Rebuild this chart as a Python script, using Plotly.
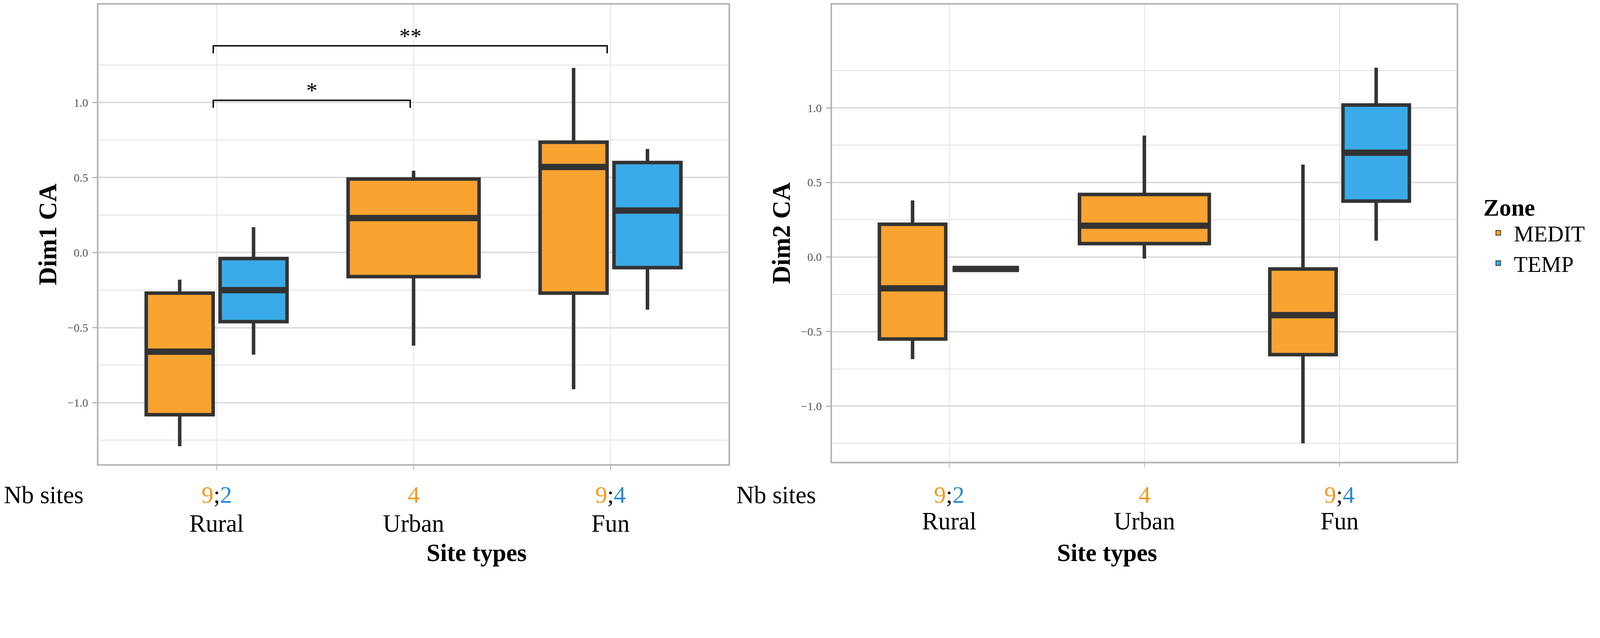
import plotly.graph_objects as go

# ---------------- data ----------------
categories = ["Rural", "Urban", "Fun"]
zones = ["MEDIT", "TEMP"]

# number of sites per zone and category (None = absent)
nb_medit = [9, 4, 9]
nb_temp = [2, None, 4]

# Dim1 CA box statistics
d1_medit_low = [-1.29, -0.62, -0.91]
d1_medit_q1 = [-1.08, -0.16, -0.27]
d1_medit_med = [-0.66, 0.23, 0.57]
d1_medit_q3 = [-0.27, 0.49, 0.735]
d1_medit_up = [-0.18, 0.545, 1.23]

d1_temp_low = [-0.68, None, -0.38]
d1_temp_q1 = [-0.46, None, -0.10]
d1_temp_med = [-0.25, None, 0.28]
d1_temp_q3 = [-0.04, None, 0.60]
d1_temp_up = [0.17, None, 0.69]

# Dim2 CA box statistics
d2_medit_low = [-0.685, -0.01, -1.25]
d2_medit_q1 = [-0.55, 0.09, -0.655]
d2_medit_med = [-0.21, 0.21, -0.39]
d2_medit_q3 = [0.22, 0.42, -0.08]
d2_medit_up = [0.38, 0.815, 0.62]

d2_temp_low = [-0.08, None, 0.11]
d2_temp_q1 = [-0.08, None, 0.375]
d2_temp_med = [-0.08, None, 0.70]
d2_temp_q3 = [-0.08, None, 1.02]
d2_temp_up = [-0.08, None, 1.27]

# significance comparisons on Dim1 (group a, group b, label, bracket height)
sig_a = ["Rural", "Rural"]
sig_b = ["Urban", "Fun"]
sig_lab = ["*", "**"]
sig_y = [1.014, 1.377]

ytick_vals = [-1.0, -0.5, 0.0, 0.5, 1.0]
ytick_text = ["\u22121.0", "\u22120.5", "0.0", "0.5", "1.0"]
yminor_vals = [-1.25, -0.75, -0.25, 0.25, 0.75, 1.25]

# ---------------- geometry helpers ----------------
# the page is photographed with a zoom and an 8px body margin;
# the figure is sized so that it fills the 4562x1633 photograph.
Z = 1.115
OFF = 8
FW = int(4562 / Z) - 2 * OFF
FH = int(1633 / Z) - 2 * OFF


def clamp(v):
    return min(1.0, max(0.0, v))


def fx(X):
    return clamp((X / Z - OFF) / FW)


def fy(Y):
    return clamp(1 - (Y / Z - OFF) / FH)


def px(v):
    return v / Z


# ---------------- style ----------------
FONT = "Liberation Serif, Times New Roman, serif"
C_MEDIT = "#F9A331"
C_TEMP = "#3AABE8"
T_MEDIT = "#F39A1F"
T_TEMP = "#2689CD"
OUTLINE = "#333333"
FRAME = "#b3b3b3"
DODGE = 0.1875
W_DODGED = 0.34
W_SOLO = 0.665

fig = go.Figure()


def add_panel(xa, ya, stats, show_legend):
    med_x, med_y = [], []
    first = {"MEDIT": True, "TEMP": True}
    for i, cat in enumerate(categories):
        pos = i + 1
        both = nb_temp[i] is not None
        for z in zones:
            st = stats[z]
            if st["med"][i] is None:
                continue
            if both:
                x = pos - DODGE if z == "MEDIT" else pos + DODGE
                w = W_DODGED
            else:
                x = pos
                w = W_SOLO
            fig.add_trace(go.Box(
                x=[x], q1=[st["q1"][i]], median=[st["med"][i]], q3=[st["q3"][i]],
                lowerfence=[st["low"][i]], upperfence=[st["up"][i]],
                width=w, whiskerwidth=0, boxpoints=False,
                fillcolor=C_MEDIT if z == "MEDIT" else C_TEMP,
                line=dict(color=OUTLINE, width=px(10)),
                name=z, legendgroup=z,
                showlegend=show_legend and first[z],
                xaxis=xa, yaxis=ya, hoverinfo="skip",
            ))
            first[z] = False
            med_x += [x - w / 2, x + w / 2, None]
            med_y += [st["med"][i], st["med"][i], None]
    fig.add_trace(go.Scatter(x=med_x, y=med_y, mode="lines",
                             line=dict(color=OUTLINE, width=px(18)),
                             showlegend=False, hoverinfo="skip",
                             xaxis=xa, yaxis=ya))


stats1 = {
    "MEDIT": dict(low=d1_medit_low, q1=d1_medit_q1, med=d1_medit_med, q3=d1_medit_q3, up=d1_medit_up),
    "TEMP": dict(low=d1_temp_low, q1=d1_temp_q1, med=d1_temp_med, q3=d1_temp_q3, up=d1_temp_up),
}
stats2 = {
    "MEDIT": dict(low=d2_medit_low, q1=d2_medit_q1, med=d2_medit_med, q3=d2_medit_q3, up=d2_medit_up),
    "TEMP": dict(low=d2_temp_low, q1=d2_temp_q1, med=d2_temp_med, q3=d2_temp_q3, up=d2_temp_up),
}
add_panel("x", "y", stats1, True)
add_panel("x2", "y2", stats2, False)

# significance brackets
SHIFT = -0.017
TICK = 0.05
bx, by = [], []
annotations = []
for a, b, lab, yv in zip(sig_a, sig_b, sig_lab, sig_y):
    xa = categories.index(a) + 1 + SHIFT
    xb = categories.index(b) + 1 + SHIFT
    bx += [xa, xa, xb, xb, None]
    by += [yv - TICK, yv, yv, yv - TICK, None]
    annotations.append(dict(x=(xa + xb) / 2, y=yv + 0.065, xref="x", yref="y",
                            text=lab, showarrow=False, yanchor="middle",
                            font=dict(family=FONT, size=px(64), color="#000000")))
fig.add_trace(go.Scatter(x=bx, y=by, mode="lines", line=dict(color="#000000", width=px(4)),
                         showlegend=False, hoverinfo="skip", xaxis="x", yaxis="y"))


def count_text(i):
    m, t = nb_medit[i], nb_temp[i]
    s = f"<span style='color:{T_MEDIT}'>{m}</span>"
    if t is not None:
        s += f";<span style='color:{T_TEMP}'>{t}</span>"
    return s


COUNT_Y = fy(1412)
for xr in ["x", "x2"]:
    for i in range(len(categories)):
        annotations.append(dict(x=i + 1, y=COUNT_Y, xref=xr, yref="paper", text=count_text(i),
                                showarrow=False, yanchor="middle",
                                font=dict(family=FONT, size=px(68), color="#000000")))
for X in [5, 2100]:
    annotations.append(dict(x=fx(X), y=COUNT_Y, xref="paper", yref="paper", text="Nb sites",
                            showarrow=False, xanchor="left", yanchor="middle",
                            font=dict(family=FONT, size=px(70), color="#000000")))
for X in [1215, 3305]:
    annotations.append(dict(x=fx(X), y=fy(1578), xref="paper", yref="paper",
                            text="<b>Site types</b>", showarrow=False, yanchor="middle",
                            font=dict(family=FONT, size=px(70), color="#000000")))

xaxis_common = dict(
    range=[0.4, 3.6], tickmode="array", tickvals=[1, 2, 3], ticktext=categories,
    showgrid=True, gridcolor="#e2e2e2", gridwidth=px(2), zeroline=False,
    showline=True, linecolor=FRAME, linewidth=px(4), mirror=True,
    ticks="outside", ticklen=px(12), tickwidth=px(2), tickcolor=FRAME,
    tickfont=dict(family=FONT, size=px(70), color="#000000"),
    ticklabelstandoff=int(round(px(92))),
)
yaxis_common = dict(
    tickmode="array", tickvals=ytick_vals, ticktext=ytick_text,
    showgrid=True, gridcolor="#dcdcdc", gridwidth=px(4), zeroline=False,
    showline=True, linecolor=FRAME, linewidth=px(4), mirror=True,
    ticks="outside", ticklen=px(13), tickwidth=px(3), tickcolor=FRAME,
    tickfont=dict(family=FONT, size=px(33), color="#555555"),
    ticklabelstandoff=int(round(px(6))),
    minor=dict(tickvals=yminor_vals, showgrid=True, gridcolor="#e9e9e9", gridwidth=px(3), ticks=""),
)

fig.update_layout(
    width=FW, height=FH,
    margin=dict(l=0, r=0, t=0, b=0),
    paper_bgcolor="white", plot_bgcolor="white",
    showlegend=True,
    xaxis=dict(domain=[fx(281), fx(2080)], anchor="y", **xaxis_common),
    xaxis2=dict(domain=[fx(2375), fx(4158)], anchor="y2", **xaxis_common),
    yaxis=dict(domain=[fy(1324), fy(10)], anchor="x", range=[-1.409, 1.651],
               title=dict(text="<b>Dim1 CA</b>", standoff=px(8),
                          font=dict(family=FONT, size=px(72), color="#000000")),
               **yaxis_common),
    yaxis2=dict(domain=[fy(1317), fy(10)], anchor="x2", range=[-1.373, 1.693],
                title=dict(text="<b>Dim2 CA</b>", standoff=px(8),
                           font=dict(family=FONT, size=px(72), color="#000000")),
                **yaxis_common),
    legend=dict(x=fx(4232), y=fy(525), xanchor="left", yanchor="top",
                title=dict(text="<b>Zone</b>", font=dict(family=FONT, size=px(68), color="#000000"),
                           side="top"),
                font=dict(family=FONT, size=px(64), color="#000000"),
                itemwidth=int(round(px(78))),
                bgcolor="rgba(0,0,0,0)", tracegroupgap=0, itemsizing="constant"),
    annotations=annotations,
)

fig.write_html("out.html")
